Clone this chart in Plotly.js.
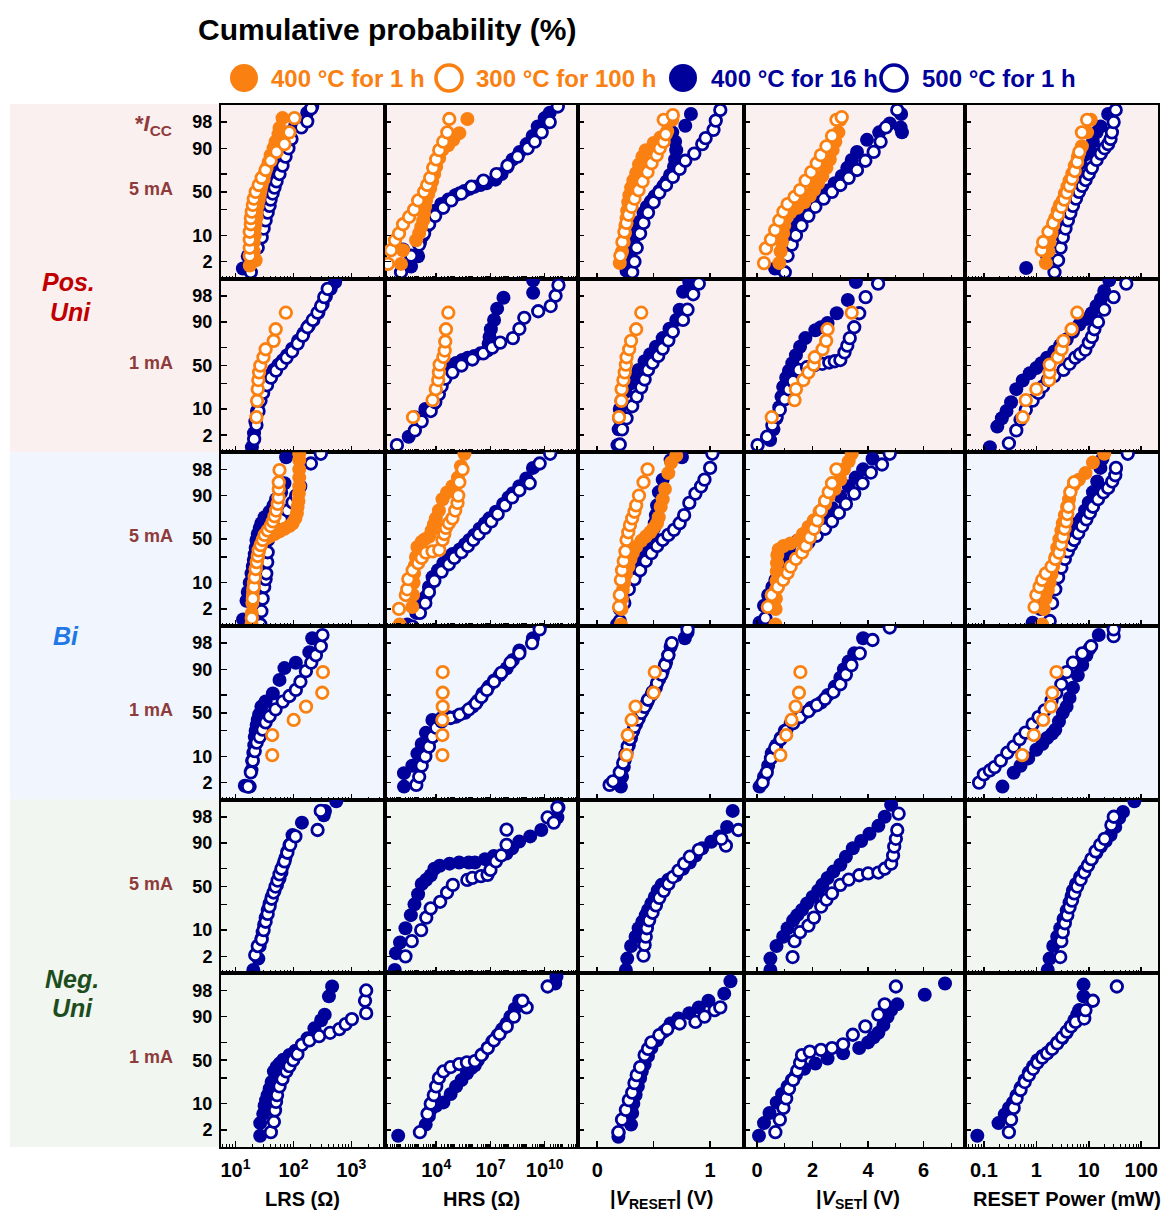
<!DOCTYPE html>
<html><head><meta charset="utf-8">
<script src="https://cdn.plot.ly/plotly-3.0.1.min.js"></script>
<style>body{margin:0;background:#fff}#chart{width:1166px;height:1214px}</style>
</head><body><div id="chart"></div>
<script>
// Series: A = 400 °C for 1 h (orange filled), B = 300 °C for 100 h (orange open),
//         C = 400 °C for 16 h (navy filled), D = 500 °C for 1 h (navy open)
// Each point: [value, cumulative probability %]
// ---------- Pos. Uni, 5 mA ----------
const LRS_P5_A=[[17.6,1.5],[22.3,2.2],[20.7,4],[20.7,7],[21.5,10],[21.5,14],[22.3,18],[23.2,23],[23.2,28],[24.2,34],[25.1,40],[26.2,46],[27.2,52],[28.3,58],[30.6,64],[31.8,70],[34.5,76],[37.3,81],[40.4,86],[45.4,90],[49.1,93],[55.3,95.5],[57.5,97],[64.8,98.5]];
const LRS_P5_B=[[17.6,3],[17.6,5],[17.6,8],[17.6,12],[18.4,17],[18.4,22],[19.1,28],[19.9,35],[20.7,42],[22.3,50],[25.1,58],[28.3,66],[33.1,74],[40.4,82],[51.1,88],[70,92],[85,96],[104,98.5]];
const LRS_P5_C=[[13.4,1.2],[16.3,2.9],[21.5,5],[24.2,8],[27.2,11],[29.4,16],[31.8,22],[34.5,28],[35.9,34],[37.3,40],[40.4,47],[43.7,54],[47.2,61],[53.2,69],[57.5,77],[64.8,84],[73,90],[79,93],[85,96],[108,97.6],[173,99],[211,99.4]];
const LRS_P5_D=[[18.4,0.9],[20.7,2.5],[24.2,5],[28.3,9],[30.6,14],[33.1,20],[35.9,27],[38.8,34],[40.4,41],[43.7,48],[47.2,55],[51.1,62],[57.5,70],[64.8,78],[73,85],[82,90],[92.5,94],[137,97.1],[173,98.1],[203,99.3]];
const HRS_P5_A=[[114,1.7],[147,4.3],[776,7.7],[1140,11],[1470,15],[1900,20],[2150,26],[2450,33],[2780,40],[3600,47],[4650,54],[6000,62],[7740,70],[1e4,77],[1.47e4,84],[2.15e4,89],[4.5e4,91.5],[8.8e4,93.7],[1.9e5,95.8],[5.3e5,98.4]];
const HRS_P5_B=[[21.5,1.7],[31.6,4.3],[52.7,7.7],[87.9,11],[147,17],[316,23],[600,30],[1000,40],[2150,50],[3160,58],[4650,66],[6810,76],[1e4,83],[1.47e4,89],[2.45e4,93],[4.1e4,96],[5.3e4,98.4]];
const HRS_P5_C=[[147,4.5],[408,1.4],[1000,2.9],[1290,7],[1900,10],[2780,15],[4650,22],[8790,29],[1.9e4,36],[4.65e4,41],[1.14e5,46],[2e5,48.5],[3.6e5,51],[7e5,53.5],[1.29e6,56],[2.8e6,58],[6e6,60],[1.9e7,64],[4.1e7,70],[8.8e7,77],[1.67e8,83],[4.1e8,88],[1e9,92],[2.15e9,95],[4.1e9,97.3],[1e10,98.5],[1.9e10,99]];
const HRS_P5_D=[[114,0.9],[408,3],[1140,6],[2150,11],[4080,17],[8790,24],[2.45e4,32],[6.8e4,40],[2.45e5,48],[8.8e5,56],[4.1e6,63],[2.15e7,70],[8.8e7,78],[3.16e8,85],[1.14e9,90],[2.8e9,93],[6.8e9,96],[1.9e10,98],[5.3e10,99.4]];
const VRESET_P5_A=[[0.20,1.8],[0.22,4],[0.235,7],[0.245,11],[0.25,16],[0.26,22],[0.265,29],[0.275,38],[0.285,46],[0.30,55],[0.32,63],[0.345,71],[0.37,79],[0.40,85],[0.43,89],[0.50,92.5],[0.56,94.5],[0.62,96.3],[0.665,98.3]];
const VRESET_P5_B=[[0.205,3],[0.223,7],[0.241,12],[0.259,18],[0.277,25],[0.304,33],[0.33,42],[0.366,52],[0.402,62],[0.446,72],[0.482,80],[0.527,86],[0.554,90],[0.589,93],[0.607,95.5],[0.589,98.3],[0.67,98.8]];
const VRESET_P5_C=[[0.26,1],[0.28,2.5],[0.295,4.3],[0.32,8],[0.345,13],[0.375,19],[0.41,27],[0.44,33],[0.475,39],[0.51,45],[0.55,51],[0.585,57],[0.614,62],[0.645,69],[0.68,77],[0.69,83],[0.70,89],[0.69,93],[0.665,96],[0.78,97.4],[0.83,98.9]];
const VRESET_P5_D=[[0.31,0.9],[0.33,2],[0.35,5],[0.38,11],[0.41,18],[0.45,27],[0.5,38],[0.55,49],[0.61,58],[0.67,67],[0.73,75],[0.78,82],[0.86,87],[0.93,92],[0.96,94.3],[1.03,96.6],[1.05,98.2],[1.09,99.2]];
const VSET_P5_A=[[0.8,1.8],[0.85,4],[0.9,7],[0.94,11],[0.98,16],[1.05,22],[1.2,27],[1.45,32],[1.7,38],[1.9,45],[2.05,52],[2.2,60],[2.35,68],[2.5,76],[2.62,83],[2.72,89],[2.82,93],[2.93,96],[3.0,98.3]];
const VSET_P5_B=[[0.25,1.8],[0.32,4.8],[0.5,8],[0.65,13],[0.8,20],[0.95,28],[1.1,36],[1.35,44],[1.55,52],[1.75,63],[1.95,72],[2.15,80],[2.3,86],[2.5,91],[2.7,95],[2.86,98.3],[3.05,98.6]];
const VSET_P5_C=[[0.65,1.2],[0.94,4.3],[1.1,8],[1.25,11],[1.35,15],[1.55,22],[1.75,30],[2.04,40],[2.35,46],[2.58,52],[2.8,60],[3.05,68],[3.25,76],[3.41,82.6],[3.6,88],[3.96,93.7],[4.4,96],[4.78,97.8],[5.19,98.9],[5.22,96],[5.17,97.1]];
const VSET_P5_D=[[1.0,0.9],[1.1,3],[1.25,6],[1.4,10],[1.6,16],[1.85,24],[2.1,33],[2.4,42],[2.7,50],[3.0,58],[3.3,66],[3.6,74],[3.9,82],[4.2,88],[4.45,93],[4.64,97.1],[5.05,99.2]];
const PWR_P5_A=[[1.52,1.8],[1.7,4],[1.8,7],[1.95,11],[2.1,16],[2.3,22],[2.55,29],[2.8,35],[3.2,40],[3.5,48],[3.9,56],[4.3,63],[4.85,70.6],[5.4,78],[6.2,85],[7.4,91],[9.3,96],[10.9,98.3]];
const PWR_P5_B=[[1.27,4.3],[1.35,7],[1.7,12],[2.1,18],[2.6,25],[3.0,33],[3.4,41],[3.8,49],[4.3,57],[4.8,65],[5.4,73],[6.0,81],[6.6,88],[7.4,96],[9.3,98.3]];
const PWR_P5_C=[[0.64,1.25],[1.6,3],[1.8,6],[2.0,10],[2.3,16],[2.6,24],[2.9,32],[3.3,40],[3.8,48],[4.3,56],[5.0,64],[5.8,72],[6.8,80],[8.3,86],[10.2,89.5],[12,93],[14.1,96],[16.8,97.3],[23.4,98.9]];
const PWR_P5_D=[[2.22,0.9],[2.6,2.2],[2.9,5],[3.2,9],[3.6,14],[4.0,20],[4.45,26.5],[5.0,34],[5.7,42],[6.5,50],[7.5,57],[8.7,63.6],[10,70],[11.5,76],[14.1,82.6],[17,87],[20,90],[23.4,92],[26,94],[27.6,96],[29.8,98],[32.6,99.2]];
// ---------- Pos. Uni, 1 mA ----------
const LRS_P1_B=[[23,6.4],[23.6,14.9],[24.2,24.3],[24.8,33.4],[25.5,42],[26.8,49.8],[30.4,59.6],[33.1,68.4],[45.6,76.6],[49.4,85.7],[74,94]];
const LRS_P1_C=[[19.2,0.8],[20.9,2.3],[22,5],[23.5,9],[24.8,13],[27,18],[30,24],[33,29],[36,33],[40,39],[46,45],[55,51],[65,56],[78,62],[95,69],[121,77],[150,83],[185,88],[222,91],[270,94],[320,96.5],[363,97.9],[440,98.8],[525,99.3]];
const LRS_P1_D=[[21,1.5],[23,4],[25,9],[27,15],[30,21],[35,28],[41,36],[50,44],[62,52],[76,59],[95,66],[118,74],[145,81],[175,87],[215,91],[260,94],[300,96],[340,97.8],[390,98.8]];
const HRS_P1_B=[[525,6.4],[6300,15.4],[9500,24.3],[12900,33.4],[14100,42],[15500,51],[25000,60],[29500,67],[31600,76],[34700,85.7],[46800,94]];
const HRS_P1_C=[[302,1.8],[661,6.4],[2510,10],[7410,13],[1.12e4,20],[1.58e4,30],[2.45e4,44.8],[3.98e4,47.5],[6.31e4,50],[1.26e5,53],[2.75e5,56.4],[5.62e5,59],[1.26e6,61],[2.82e6,64],[6.76e6,67],[7.94e6,74],[8.91e6,80],[1.05e7,85.7],[1.58e7,91],[2.34e7,95.3],[5.25e7,97.7],[2.29e9,98.4],[2.29e9,99.4]];
const HRS_P1_D=[[67.6,0.95],[661,2.8],[1580,5],[5010,9],[8910,14],[1.41e4,20],[2e4,27],[3.16e4,35],[7.94e4,42],[2.51e5,50],[1e6,57],[3.98e6,64],[1.26e7,70],[3.47e7,75],[1.74e8,79],[3.98e8,86],[7.41e8,92],[4.37e9,94.5],[2.14e10,96],[3.98e10,98],[5.75e10,99.1]];
const VRESET_P1_B=[[0.193,6.4],[0.214,14.9],[0.216,24.3],[0.232,33.4],[0.244,42],[0.254,51],[0.26,59.6],[0.283,68.4],[0.30,76.6],[0.345,85.7],[0.39,94]];
const VRESET_P1_C=[[0.18,0.95],[0.19,3],[0.195,6],[0.2,10],[0.215,15],[0.25,22],[0.3,30],[0.33,37],[0.366,44.8],[0.42,55],[0.47,63],[0.52,71],[0.58,79],[0.64,86],[0.70,91],[0.73,95],[0.76,98.5],[0.815,99.3]];
const VRESET_P1_D=[[0.2,1],[0.22,3],[0.26,6],[0.31,11.5],[0.35,18],[0.39,26],[0.42,34],[0.45,44.8],[0.49,53],[0.54,61],[0.58,69],[0.63,77],[0.67,84],[0.76,91],[0.8,95],[0.85,98.2],[0.9,99.2]];
const VSET_P1_B=[[0.53,6.4],[1.35,15.4],[1.4,24.3],[1.67,33.4],[1.85,42],[2.04,51],[2.08,59.6],[2.36,68.4],[2.49,76.6],[2.54,85.7],[3.41,94]];
const VSET_P1_C=[[0.47,1.4],[0.59,3],[0.7,6],[0.8,11],[0.88,18],[0.94,26.5],[1.05,36],[1.15,44],[1.27,52.6],[1.4,62],[1.55,71],[1.74,79],[2.1,85],[2.3,87],[2.54,89.5],[2.87,93.8],[3.27,97.3],[3.56,99.3]];
const VSET_P1_D=[[0.02,0.95],[0.36,1.8],[0.55,4],[0.7,6.5],[0.82,9.6],[1.0,16],[1.15,24],[1.3,32],[1.51,44.8],[1.8,48],[2.08,50.6],[2.35,52],[2.6,53.5],[2.8,55],[3.0,56.4],[3.15,65],[3.25,72],[3.34,79],[3.5,87],[3.68,93.8],[3.91,97.8],[4.36,99.2]];
const PWR_P1_B=[[0.55,6.4],[0.63,15.4],[1.0,24.3],[1.75,33.4],[1.79,42],[1.8,51],[2.57,59.6],[3.03,68.4],[3.28,76.6],[4.7,85.7],[6.03,94]];
const PWR_P1_C=[[0.13,0.8],[0.18,3.6],[0.22,6],[0.27,9],[0.33,14],[0.415,24.3],[0.55,33],[0.75,41],[1.0,47],[1.25,52.6],[1.6,59],[2.2,66],[2.86,72.6],[3.8,78],[5.0,84],[6.6,88.6],[9,91.5],[11.4,93.8],[14,96],[17,97.5],[19.7,98.6],[24.6,99.4]];
const PWR_P1_D=[[0.3,1.1],[0.415,2.8],[0.5,5.5],[0.63,9.6],[0.85,15],[1.1,21],[1.35,27],[1.65,33.4],[2.2,38],[3.3,44.8],[4.3,52],[5.5,59],[6.8,63],[8.6,67.8],[10,75],[11.5,80],[12.8,85.7],[15,90],[19.7,95],[29.8,97.8],[51.9,99.2]];
// ---------- Bi, 5 mA ----------
const LRS_B5_A=[[18.9,0.6],[19.1,1.5],[19.5,3],[19.9,5],[20.1,6.7],[20.7,10],[21.5,14],[22.3,19],[23.5,25],[24.4,30],[25.5,36],[27.2,42],[29.8,49],[34,51],[38.8,53],[47.2,56],[57.5,59],[70,62],[85,65],[97,68],[108,73],[115,78],[118,83],[122,87],[124,91],[126,94],[126,96.5],[126,98],[126,99],[126,99.4]];
const LRS_B5_B=[[19.1,1],[19.9,4],[20.7,8],[21.5,13],[22.3,19],[23.2,25],[24.2,31],[25.1,37],[27.2,43],[29.4,49],[31.8,55],[35.9,60],[40.4,65],[44.1,70],[47.2,75],[50.3,80],[53.5,85],[55.3,89],[55.8,93],[55.8,95.3],[57.5,97.9]];
const LRS_B5_C=[[13.5,0.9],[15.5,3.5],[16.3,6],[17.6,10],[18.9,15.6],[19.9,21],[20.7,27],[21.5,33],[22.3,40],[23,49],[24.2,56],[26.2,63],[28,68],[31.8,74],[38.8,79],[45.4,84],[50.3,88],[61.3,91.5],[70,95],[74.8,99.2]];
const LRS_B5_D=[[26.9,0.6],[28,1.7],[29.4,4],[31.3,8],[33.1,12],[34,15.6],[35.3,25],[35.9,35],[36.2,49],[40.4,57],[48.9,64],[62.1,72],[79.2,80],[96.5,86],[111.7,90],[130.8,94],[200,98.7],[297,99.4]];
const HRS_B5_A=[[95.5,0.6],[479,2.3],[525,5],[562,10],[603,15.6],[661,22],[759,30],[912,41],[1580,47],[2400,50],[4070,53],[5620,60],[7590,67],[9550,73],[1.41e4,80],[2.24e4,88],[3.98e4,91.5],[7.94e4,94],[1.58e5,96.5],[2.34e5,98.4],[3.63e5,99.4]];
const HRS_B5_B=[[87.1,2],[209,5],[251,7],[288,12],[501,18],[1000,24],[1580,29],[2690,34.5],[6310,36],[1.48e4,37.6],[2.24e4,49],[2.82e4,56],[3.47e4,63],[5.01e4,68],[7.94e4,73],[1.12e5,80],[1.51e5,85.7],[1.66e5,90],[1.91e5,95.3],[2.88e5,98]];
const HRS_B5_C=[[251,0.6],[794,1.5],[1580,2.8],[2690,4.5],[3980,8],[6310,13.2],[1.26e4,18],[2.51e4,24],[5.01e4,30],[7.94e4,33],[2e5,38],[3.98e5,44],[6.76e5,49],[1.26e6,55],[2.51e6,62],[5.01e6,68],[8.71e6,73],[2e7,79],[5.01e7,85],[1e8,89],[1.74e8,91.2],[3.98e8,94],[9.55e8,96.3],[2.24e9,98.2]];
const HRS_B5_D=[[479,0.5],[1260,1.5],[2510,3],[3980,6],[7940,11],[2e4,17],[5.01e4,23],[1e5,29],[2.51e5,35],[5.62e5,42],[1.12e6,49],[2.24e6,56],[5.01e6,63],[1.12e7,70],[2.51e7,77],[6.31e7,84],[1.58e8,89],[3.98e8,92.5],[1.48e9,95],[5.25e9,98.7],[2e10,99.4]];
const VRESET_B5_A=[[0.21,0.6],[0.215,2],[0.22,4],[0.227,6.7],[0.24,10],[0.255,15],[0.277,21],[0.295,28],[0.315,34],[0.345,41],[0.39,48],[0.43,53],[0.47,58],[0.5,63],[0.53,68],[0.545,74],[0.5625,83],[0.58,88],[0.6,93],[0.63,97.4],[0.655,98.8],[0.70,99.3]];
const VRESET_B5_B=[[0.193,2.3],[0.2,5],[0.21,11.5],[0.22,18],[0.235,26],[0.25,36],[0.26,49],[0.275,58],[0.29,66],[0.31,73],[0.33,79],[0.345,84],[0.37,90],[0.41,95.3],[0.446,98]];
const VRESET_B5_C=[[0.176,0.6],[0.2,2],[0.225,4],[0.244,6.7],[0.28,10],[0.345,15.6],[0.38,22],[0.41,29],[0.446,37.6],[0.47,46],[0.49,55],[0.5,62],[0.51,68],[0.52,76],[0.53,84],[0.546,91.7],[0.58,96],[0.65,99],[0.75,99.2]];
const VRESET_B5_D=[[0.2,0.8],[0.24,3],[0.28,7],[0.33,12],[0.38,18],[0.43,26],[0.48,34],[0.53,42],[0.58,49],[0.63,55],[0.68,60.8],[0.73,68],[0.77,76],[0.816,85.7],[0.87,91],[0.92,94],[0.95,96],[1.0,98.2],[1.02,99.4]];
const VSET_B5_A=[[0.66,0.6],[0.67,2],[0.68,4],[0.69,7],[0.7,11],[0.71,17],[0.72,24],[0.73,32],[0.78,38],[0.95,42],[1.2,45],[1.49,49],[1.65,56],[1.85,64],[2.04,71],[2.25,79],[2.45,85],[2.58,89.5],[2.8,93],[3.0,96],[3.13,98],[3.3,98.9],[3.41,99.4]];
const VSET_B5_B=[[0.39,2.3],[0.53,5],[0.75,8],[0.94,11.5],[1.1,16],[1.21,21],[1.4,28],[1.62,34.5],[1.75,42],[1.9,52],[2.05,62],[2.17,71],[2.3,80],[2.45,87],[2.58,91.7],[2.7,95],[2.86,98]];
const VSET_B5_C=[[0.09,0.7],[0.25,2.5],[0.4,5],[0.55,8],[0.66,11.5],[0.8,17],[0.95,24],[1.1,32],[1.21,41],[1.45,48],[1.75,55],[2.05,62],[2.31,68],[2.5,75],[2.7,82],[3.0,89.5],[3.3,94],[3.55,96.5],[3.82,98],[4.16,99.1]];
const VSET_B5_D=[[0.3,1],[0.5,3.5],[0.7,8],[0.9,14],[1.15,22],[1.35,30],[1.55,38],[1.85,46],[2.15,54],[2.45,62],[2.7,70],[2.95,78],[3.2,85],[3.5,91],[3.8,95],[4.1,97.5],[4.5,98.6],[4.78,99.4]];
const PWR_B5_A=[[1.29,0.6],[1.4,2],[1.5,4],[1.66,6.7],[1.8,10],[1.95,15],[2.1,21],[2.3,30],[2.5,40],[2.75,50],[3.0,60],[3.2,68],[3.5,76],[3.85,83],[4.2,88],[4.46,91.7],[5.2,94.5],[6.5,96],[8.65,97.4],[12,98.8],[19.7,99.4]];
const PWR_B5_B=[[0.925,2.3],[1.0,5],[1.15,8],[1.29,11.5],[1.52,15.6],[1.95,21],[2.3,28],[2.7,34.5],[2.95,44],[3.2,53],[3.45,62],[3.7,70],[3.9,77],[4.1,83],[4.46,91.7],[5.27,95.3]];
const PWR_B5_C=[[0.85,0.7],[1.2,2],[1.45,4],[1.66,6.7],[1.95,10],[2.3,15],[2.6,21],[2.95,29],[3.3,37.6],[3.8,46],[4.4,54],[5.2,62],[6.1,68],[7.3,73],[8.5,80],[10,86],[12,91.7],[14.5,95.5],[16.7,98.2],[18.2,99.1]];
const PWR_B5_D=[[1.8,0.8],[2.0,3],[2.3,7],[2.6,13],[3.0,20],[3.5,28],[4.0,36],[4.6,43],[5.27,49],[6.3,57],[7.5,65],[9,72],[10.5,78],[12,83],[15,88],[19,91.5],[23.4,93.4],[28,95.5],[32,97],[33,98.2],[55.4,99.4]];
// ---------- Bi, 1 mA ----------
const LRS_B1_B=[[43,10.7],[43,25.7],[101,41.7],[165,57.3],[314,72.3],[323,88.5]];
const LRS_B1_C=[[14.5,1.6],[17.6,1.5],[18.9,4.6],[19.4,8],[20.3,12],[21.1,17],[21.5,24],[22.3,30],[23.2,36],[24.2,42],[25.6,48],[28,57.3],[33.1,63],[44.1,71.6],[57.5,83.4],[70,90.6],[110,93],[188,96.3],[211,98.6]];
const LRS_B1_D=[[16.5,1.5],[18.4,4],[19.9,8],[21.5,13],[23.2,19],[26.2,24],[29.4,31],[33.1,39],[38.8,46],[49.1,54],[65.5,63],[85.3,69],[110,75],[132,82],[164,89],[203,93],[244,95.5],[297,97.5],[317,98.9]];
const HRS_B1_B=[[2.2e4,10.7],[2.2e4,25.7],[2.2e4,41.7],[2.3e4,57.3],[2.3e4,72.3],[2.3e4,88.5]];
const HRS_B1_C=[[166,1.5],[166,3.8],[479,6],[912,11.5],[1580,18],[2690,27.8],[6170,41.7],[2e4,44],[5.01e4,44.8],[1.23e5,45.5],[3.98e5,50],[1.05e6,57.3],[2e6,64],[3.72e6,71.6],[7.94e6,78],[1.58e7,83],[3.16e7,86.5],[7.94e7,90.5],[1.74e8,94],[3.98e8,96.7],[2.24e9,98.6]];
const HRS_B1_D=[[794,1.7],[1150,3],[1580,6],[2510,10],[3980,16],[6310,24],[1e4,33],[2e4,40],[6.31e4,44],[2e5,48],[6.31e5,54],[1.58e6,61],[3.16e6,68],[6.31e6,75],[1.58e7,82],[3.98e7,88],[1.26e8,93],[3.98e8,96],[2e9,98],[5.25e9,99.3]];
const VRESET_B1_B=[[0.26,10.7],[0.27,25.7],[0.305,41.7],[0.34,57.3],[0.5,72.3],[0.51,88.5]];
const VRESET_B1_C=[[0.21,1.5],[0.22,3],[0.235,5.5],[0.244,8.3],[0.26,12],[0.28,17],[0.3,23],[0.32,30],[0.345,37],[0.37,44],[0.4,52],[0.43,59],[0.446,63],[0.48,70],[0.52,77],[0.55,84],[0.58,89],[0.61,93],[0.63,95.5],[0.65,97.4],[0.776,98.6],[0.8,99.1]];
const VRESET_B1_D=[[0.11,1.7],[0.14,2.2],[0.2,4],[0.23,7],[0.25,11],[0.27,16],[0.29,22],[0.31,28],[0.33,34],[0.36,42],[0.39,50],[0.42,57],[0.45,65],[0.49,73],[0.53,81],[0.57,87],[0.6,92],[0.63,95.5],[0.66,98],[0.8,99.3]];
const VSET_B1_B=[[0.84,10.7],[1.05,25.7],[1.24,41.7],[1.39,57.3],[1.51,72.3],[1.56,88.5]];
const VSET_B1_C=[[0.09,1.5],[0.25,3],[0.4,6],[0.53,11.7],[0.7,17],[0.85,23],[1.0,30],[1.21,37.8],[1.45,44],[1.7,50],[1.95,56],[2.31,62],[2.55,70],[2.8,78],[3.0,85],[3.13,90],[3.3,93.5],[3.5,96],[3.82,98.6]];
const VSET_B1_D=[[0.2,2],[0.35,4],[0.5,9],[0.65,15],[0.85,22],[1.05,30],[1.3,38],[1.55,45],[1.85,52],[2.15,59],[2.45,66],[2.75,73],[3.0,80],[3.2,87],[3.4,92],[3.7,96],[4.16,98.4],[4.78,99.4]];
const PWR_B1_B=[[0.537,10.7],[0.895,25.7],[1.35,41.7],[1.89,57.3],[2.02,72.3],[2.42,88.5]];
const PWR_B1_C=[[0.226,1.5],[0.37,3.9],[0.5,6],[0.7,9],[1.0,13.9],[1.3,18],[1.6,23],[2.0,27],[2.3,31],[2.7,40],[3.2,50],[3.78,57.3],[4.3,67],[5.0,77],[6.17,86.5],[7.5,92],[9,95.5],[10.2,97],[15.5,98.9]];
const PWR_B1_D=[[0.081,2],[0.1,3.5],[0.13,4.5],[0.16,5.5],[0.21,8],[0.28,12],[0.37,16],[0.48,22],[0.62,28],[0.85,37],[1.1,45],[1.45,53],[1.95,64],[2.4,72],[3.0,80],[3.78,88.5],[5.0,93],[7.5,96],[11.1,97.5],[29.8,98.8],[29.8,99.3]];
// ---------- Neg. Uni, 5 mA ----------
const LRS_N5_C=[[20.3,0.7],[24.8,1.7],[26.2,4],[28.1,6.3],[29.4,9],[31.2,13],[33.1,18],[35.9,24.6],[38.8,31],[42,38],[47.2,45],[52.1,51.9],[57.5,59],[62.1,66],[66.8,74],[72.5,80],[78.5,85],[85.3,89],[96.4,93.5],[140,97],[334,98.2],[350,98.7],[548,99.4]];
const LRS_N5_D=[[21.9,2.2],[24.2,4],[28.3,6],[30.6,10],[33.1,15],[35.9,21],[38.8,28],[42,36],[45.4,43],[49.1,50],[53.2,57],[57.5,64],[62.1,70],[70,77],[78.5,84],[88,89],[108,93],[261,95.2],[296,98.7]];
const HRS_N5_C=[[51.3,0.7],[60.3,2.5],[100,5],[200,11],[398,20],[631,30],[1000,41],[1580,53],[2820,58],[5010,63],[7940,70],[1.58e4,73],[5.5e4,75],[1.86e5,76],[6.31e5,76],[1.38e6,76],[5.01e6,79],[1.55e7,81.6],[7.76e7,83.6],[1.58e8,87],[3.89e8,90.7],[1.58e9,93],[6.46e9,95.2],[5.01e10,97.9],[5.75e10,99]];
const HRS_N5_D=[[200,2],[447,5.4],[1480,10],[2820,18],[5010,26],[1.66e4,32.7],[3.98e4,43],[8.32e4,51.9],[5.25e5,57.7],[1e6,60],[3e6,62],[6.92e6,63.5],[1e7,68.8],[2e7,77],[3.98e7,82],[7.76e7,89],[7.76e7,95.3],[1.45e10,97.9],[3.16e10,97],[5.01e10,99]];
const VRESET_N5_C=[[0.254,0.7],[0.266,1.7],[0.3,4],[0.34,7],[0.367,11],[0.4,15],[0.43,20],[0.45,24.6],[0.48,31],[0.51,38],[0.536,45.5],[0.57,52],[0.63,58],[0.7,63],[0.76,70],[0.82,76],[0.872,82],[0.93,87],[1.01,90.6],[1.08,93],[1.15,96],[1.2,98.7]];
const VRESET_N5_D=[[0.41,2.1],[0.42,4.3],[0.43,7],[0.44,11],[0.46,16],[0.49,22],[0.52,29],[0.55,37],[0.59,45],[0.63,53],[0.67,61],[0.72,68],[0.77,75],[0.82,81],[0.9,86],[1.14,88.6],[1.1,92],[1.25,95.2]];
const VSET_N5_C=[[0.48,0.7],[0.48,1.7],[0.7,4],[0.94,7],[1.1,11],[1.3,16],[1.45,20],[1.62,24.6],[1.8,31],[2.0,38],[2.2,45],[2.35,52],[2.54,60],[2.75,67],[3.0,74],[3.2,81],[3.45,87],[3.75,91],[4.05,94],[4.37,96.3],[4.6,98],[4.83,99.2]];
const VSET_N5_D=[[1.28,1.9],[1.35,5.4],[1.55,9],[1.85,12.5],[2.05,18],[2.31,27.8],[2.5,35],[2.7,42],[3.0,52],[3.3,58],[3.68,63],[4.0,65],[4.37,66],[4.6,70],[4.83,75],[4.9,82],[4.94,88],[5.0,92],[5.05,95.2],[5.1,98.4]];
const PWR_N5_C=[[1.65,0.7],[1.79,1.7],[2.1,4],[2.5,7],[2.86,11],[3.3,17],[3.8,24],[4.3,32],[4.7,39],[5.0,45.5],[5.7,53],[6.8,61],[8.2,68],[9.8,74],[11.4,79],[14,84],[17,88],[21,91],[26,93.5],[32,96],[38,97.8],[45,98.6],[74,99.4]];
const PWR_N5_D=[[2.86,1.9],[3.0,5.4],[3.2,9],[3.5,14],[3.9,20],[4.3,27],[4.8,34],[5.3,42],[6.0,50],[7.0,58],[8.2,66],[9.6,73],[11.2,79],[13.5,85],[16.5,89],[20,92],[27,96.5],[30,98]];
// ---------- Neg. Uni, 1 mA ----------
const LRS_N1_C=[[26.7,1.3],[26.7,3.2],[30.1,5.7],[31.8,9],[33.7,12],[35.9,15.2],[38.8,20],[42,26],[46,37],[51.1,42],[57.5,46],[66.8,50.6],[85.3,56],[108,61],[140,67.5],[174,74],[230,82.6],[301,88],[346,91],[410,97],[465,98.5]];
const LRS_N1_D=[[40.8,1.7],[46,3.5],[48.1,7],[50.1,11],[52.2,15.2],[57.5,22],[64.8,29],[75.5,37],[85.3,43],[99,50],[117,57],[140,67.5],[188,72],[277,76],[429,79],[620,82],[794,85.6],[1020,88.7],[1800,91.7],[1720,96],[1800,98]];
const HRS_N1_C=[[79.4,1.3],[2630,2.9],[3980,5],[5010,7.2],[1e4,9],[2.51e4,10.7],[6.31e4,16],[1.26e5,22],[2.51e5,28],[5.01e5,35],[8.91e5,41],[1.38e6,44],[2e6,50],[3.55e6,57],[6.92e6,64],[1.26e7,71],[2.51e7,77],[4.47e7,82],[7.76e7,86],[1.26e8,90],[2.24e8,93.5],[3.89e8,96],[3.8e10,98.8],[4.47e10,99.3]];
const HRS_N1_D=[[1260,1.7],[3310,5.7],[5010,10],[7410,15.2],[1e4,22],[1.41e4,30],[2.51e4,37],[6.31e4,42],[1.86e5,45.5],[5e5,47.5],[1.38e6,49],[3.16e6,56],[7.08e6,64],[1.55e7,72],[3.16e7,78],[7.94e7,84],[2e8,90],[1e9,94],[5.89e8,96],[1.45e10,98.5]];
const VRESET_N1_C=[[0.1875,1.2],[0.19,1.6],[0.30,2.9],[0.31,6],[0.32,10],[0.34,15.2],[0.36,22],[0.38,30],[0.395,37],[0.42,45],[0.45,55],[0.48,64],[0.53,72],[0.59,80],[0.65,86],[0.72,89],[0.816,91.7],[0.9,94],[0.985,96],[1.125,97.5],[1.18,99]];
const VRESET_N1_D=[[0.1875,1.7],[0.22,4],[0.254,7.2],[0.28,12],[0.31,17],[0.33,25],[0.35,33],[0.38,42],[0.42,56],[0.45,63],[0.48,70],[0.55,77],[0.62,82],[0.73,86],[0.87,87],[0.95,90],[1.04,93],[1.09,94]];
const VSET_N1_C=[[0.07,1.3],[0.25,3.2],[0.45,6],[0.71,10.7],[0.9,16],[1.1,22],[1.25,28],[1.4,33],[1.7,40],[2.1,46],[2.54,52],[3.1,58],[3.68,64],[4.0,70],[4.2,75],[4.37,79],[4.55,85],[4.7,90],[4.83,93],[5.05,95],[6.04,97.3],[6.77,98.8]];
const VSET_N1_D=[[0.66,1.7],[0.82,4],[0.95,8],[1.05,13],[1.15,20],[1.3,28],[1.45,38],[1.55,47],[1.62,56],[1.9,60],[2.3,62],[2.7,64],[3.1,68],[3.45,77.3],[3.9,84],[4.37,91],[4.6,95],[5.0,98.5]];
const PWR_N1_C=[[0.075,1.3],[0.19,3.2],[0.25,5.5],[0.3,8],[0.36,10.7],[0.42,15],[0.5,21],[0.6,28],[0.72,36],[0.87,43],[1.05,50],[1.3,55],[1.65,59],[2.0,64],[2.5,70],[3.1,74],[3.78,79],[4.5,84],[5.3,88],[6.0,91],[6.56,93],[7.95,97],[7.95,98.7]];
const PWR_N1_D=[[0.3,1.7],[0.33,4],[0.37,8],[0.42,13],[0.5,19],[0.6,26],[0.72,33],[0.87,40],[1.05,47],[1.3,53],[1.6,58],[2.0,63],[2.5,69],[3.1,75],[3.8,80],[4.6,84],[5.6,87],[8.2,89],[8.65,93],[12,96],[34.3,98.5]];

// ---------- labels / ticks ----------
const ROW_CURRENTS=['5 mA','1 mA','5 mA','1 mA','5 mA','1 mA'];
const COL_TITLES=['LRS (Ω)','HRS (Ω)','|<i>V</i><sub>RESET</sub>| (V)','|<i>V</i><sub>SET</sub>| (V)','RESET Power (mW)'];
const LEGEND_NAMES=['400 °C for 1 h','300 °C for 100 h','400 °C for 16 h','500 °C for 1 h'];
const PROB_TICKS=[2,10,50,90,98];
const PROB_LABELS=['2','10','50','90','98'];
const PROB_MINOR=[30,70];

// table of panels [row][col]
const PANELS=[
 [{A:LRS_P5_A,B:LRS_P5_B,C:LRS_P5_C,D:LRS_P5_D},{A:HRS_P5_A,B:HRS_P5_B,C:HRS_P5_C,D:HRS_P5_D},{A:VRESET_P5_A,B:VRESET_P5_B,C:VRESET_P5_C,D:VRESET_P5_D},{A:VSET_P5_A,B:VSET_P5_B,C:VSET_P5_C,D:VSET_P5_D},{A:PWR_P5_A,B:PWR_P5_B,C:PWR_P5_C,D:PWR_P5_D}],
 [{B:LRS_P1_B,C:LRS_P1_C,D:LRS_P1_D},{B:HRS_P1_B,C:HRS_P1_C,D:HRS_P1_D},{B:VRESET_P1_B,C:VRESET_P1_C,D:VRESET_P1_D},{B:VSET_P1_B,C:VSET_P1_C,D:VSET_P1_D},{B:PWR_P1_B,C:PWR_P1_C,D:PWR_P1_D}],
 [{A:LRS_B5_A,B:LRS_B5_B,C:LRS_B5_C,D:LRS_B5_D},{A:HRS_B5_A,B:HRS_B5_B,C:HRS_B5_C,D:HRS_B5_D},{A:VRESET_B5_A,B:VRESET_B5_B,C:VRESET_B5_C,D:VRESET_B5_D},{A:VSET_B5_A,B:VSET_B5_B,C:VSET_B5_C,D:VSET_B5_D},{A:PWR_B5_A,B:PWR_B5_B,C:PWR_B5_C,D:PWR_B5_D}],
 [{B:LRS_B1_B,C:LRS_B1_C,D:LRS_B1_D},{B:HRS_B1_B,C:HRS_B1_C,D:HRS_B1_D},{B:VRESET_B1_B,C:VRESET_B1_C,D:VRESET_B1_D},{B:VSET_B1_B,C:VSET_B1_C,D:VSET_B1_D},{B:PWR_B1_B,C:PWR_B1_C,D:PWR_B1_D}],
 [{C:LRS_N5_C,D:LRS_N5_D},{C:HRS_N5_C,D:HRS_N5_D},{C:VRESET_N5_C,D:VRESET_N5_D},{C:VSET_N5_C,D:VSET_N5_D},{C:PWR_N5_C,D:PWR_N5_D}],
 [{C:LRS_N1_C,D:LRS_N1_D},{C:HRS_N1_C,D:HRS_N1_D},{C:VRESET_N1_C,D:VRESET_N1_D},{C:VSET_N1_C,D:VSET_N1_D},{C:PWR_N1_C,D:PWR_N1_D}]
];

// ---------- styling / layout ----------
const ORANGE='#FA8011', NAVY='#00009A';
const FONT='Arial, "Liberation Sans", sans-serif';
const W=1166,H=1214, L=221,R=1158,T=105,B=1147;
const COL_EDGES=[221,385,578,744,965,1158];
const ROW_EDGES=[105,278.7,452.3,626,799.7,973.4,1147];
const px=(x)=>(x-L)/(R-L);
const py=(y)=>(B-y)/(B-T);

// normal-probability scale (probit) for the y axes
function probit(p){
 const a=[-3.969683028665376e+01,2.209460984245205e+02,-2.759285104469687e+02,1.383577518672690e+02,-3.066479806614716e+01,2.506628277459239e+00];
 const b=[-5.447609879822406e+01,1.615858368580409e+02,-1.556989798598866e+02,6.680131188771972e+01,-1.328068155288572e+01];
 const c=[-7.784894002430293e-03,-3.223964580411365e-01,-2.400758760255988e+00,-2.549732539343734e+00,4.374664141464968e+00,2.938163982698783e+00];
 const d=[7.784695709041462e-03,3.224671290700398e-01,2.445134137142996e+00,3.754408661907416e+00];
 const pl=0.02425; let q,r;
 if(p<pl){q=Math.sqrt(-2*Math.log(p));return (((((c[0]*q+c[1])*q+c[2])*q+c[3])*q+c[4])*q+c[5])/((((d[0]*q+d[1])*q+d[2])*q+d[3])*q+1);}
 if(p<=1-pl){q=p-0.5;r=q*q;return (((((a[0]*r+a[1])*r+a[2])*r+a[3])*r+a[4])*r+a[5])*q/(((((b[0]*r+b[1])*r+b[2])*r+b[3])*r+b[4])*r+1);}
 q=Math.sqrt(-2*Math.log(1-p));return -(((((c[0]*q+c[1])*q+c[2])*q+c[3])*q+c[4])*q+c[5])/((((d[0]*q+d[1])*q+d[2])*q+d[3])*q+1);
}

function logMinor(lo,hi,withDecades){const v=[];for(let e=lo;e<=hi;e++){if(withDecades)v.push(Math.pow(10,e));for(let m=2;m<=9;m++)v.push(m*Math.pow(10,e));}return v;}
const XAX=[
 {type:'log',range:[0.75,3.58],tickvals:[10,100,1000],ticktext:['10<sup>1</sup>','10<sup>2</sup>','10<sup>3</sup>'],minor:logMinor(0,3,false),minorLen:3},
 {type:'log',range:[1.17,11.84],tickvals:[1e4,1e7,1e10],ticktext:['10<sup>4</sup>','10<sup>7</sup>','10<sup>10</sup>'],minor:logMinor(1,11,true).filter(v=>v!==1e4&&v!==1e7&&v!==1e10),minorLen:3},
 {type:'linear',range:[-0.17,1.30],tickvals:[0,1],ticktext:['0','1'],minor:[0.5],minorLen:6},
 {type:'linear',range:[-0.47,7.49],tickvals:[0,2,4,6],ticktext:['0','2','4','6'],minor:[1,3,5,7],minorLen:4},
 {type:'log',range:[-1.36,2.32],tickvals:[0.1,1,10,100],ticktext:['0.1','1','10','100'],minor:logMinor(-2,2,false),minorLen:3}
];
const STY={
 A:{size:14,color:ORANGE,line:{width:0}},
 B:{size:11.5,color:'#ffffff',line:{color:ORANGE,width:2.8}},
 C:{size:14,color:NAVY,line:{width:0}},
 D:{size:11.5,color:'#ffffff',line:{color:NAVY,width:2.8}}
};
const ORDER=['C','D','A','B'];
const probTickVals=PROB_TICKS.map(p=>probit(p/100));
const probMinorVals=PROB_MINOR.map(p=>probit(p/100));
const YR=2.556;

const traces=[]; const layout={
 width:W,height:H,margin:{l:L,r:W-R,t:T,b:H-B,pad:0},
 paper_bgcolor:'#ffffff',plot_bgcolor:'rgba(0,0,0,0)',showlegend:false,
 font:{family:FONT,color:'#000'},shapes:[],annotations:[]
};
for(let r=0;r<6;r++){for(let c=0;c<5;c++){
 const k=r*5+c+1, sx=(k===1?'':k);
 const set=PANELS[r][c];
 ORDER.forEach(s=>{ if(!set[s]) return;
  traces.push({type:'scatter',mode:'markers',x:set[s].map(d=>d[0]),y:set[s].map(d=>probit(d[1]/100)),
   xaxis:'x'+sx,yaxis:'y'+sx,marker:STY[s],hoverinfo:'skip',cliponaxis:true});
 });
 const xa=XAX[c];
 layout['xaxis'+sx]={domain:[px(COL_EDGES[c]),px(COL_EDGES[c+1])],anchor:'y'+sx,type:xa.type,range:xa.range,
  showline:true,linecolor:'#000',linewidth:2,mirror:true,ticks:'inside',ticklen:6,tickwidth:1.5,tickcolor:'#000',
  showgrid:false,zeroline:false,tickmode:'array',tickvals:xa.tickvals,ticktext:xa.ticktext,tickangle:0,
  showticklabels:(r===5),tickfont:{size:20,family:FONT,weight:'bold',color:'#000'},ticklabelstandoff:4,
  minor:{tickmode:'array',tickvals:xa.minor,ticks:'inside',ticklen:xa.minorLen,tickwidth:1,tickcolor:'#000',showgrid:false}};
 layout['yaxis'+sx]={domain:[py(ROW_EDGES[r+1]),py(ROW_EDGES[r])],anchor:'x'+sx,range:[-YR,YR],
  showline:true,linecolor:'#000',linewidth:2,mirror:true,ticks:'inside',ticklen:6,tickwidth:1.5,tickcolor:'#000',
  showgrid:false,zeroline:false,tickmode:'array',tickvals:probTickVals,ticktext:PROB_LABELS,tickangle:0,
  showticklabels:(c===0),tickfont:{size:18,family:FONT,weight:'bold',color:'#000'},ticklabelstandoff:3,
  minor:{tickmode:'array',tickvals:probMinorVals,ticks:'inside',ticklen:6,tickwidth:1.5,tickcolor:'#000',showgrid:false}};
}}

// background bands
const BANDS=[['#FBF0F0',104,452.3],['#F0F5FE',452.3,799.7],['#F1F6F0',799.7,1147]];
BANDS.forEach(b=>layout.shapes.push({type:'rect',xref:'paper',yref:'paper',layer:'below',x0:px(10),x1:px(1159),y0:py(b[2]),y1:py(b[1]),fillcolor:b[0],line:{width:0}}));

const ann=(x,y,text,o)=>layout.annotations.push(Object.assign({xref:'paper',yref:'paper',x:px(x),y:py(y),text:text,showarrow:false,xanchor:'center',yanchor:'middle'},o||{}));
// title
ann(196,30,'Cumulative probability (%)',{xanchor:'left',font:{size:30,family:FONT,weight:'bold',color:'#000'}});

// legend (custom)
const LEG=[[244,269,ORANGE,true],[449,474,ORANGE,false],[683,709,NAVY,true],[894,920,NAVY,false]];
LEG.forEach((g,i)=>{
 const cx=g[0],cy=78,rr=g[3]?14:13;
 layout.shapes.push({type:'circle',xref:'paper',yref:'paper',layer:'above',x0:px(cx-rr),x1:px(cx+rr),y0:py(cy+rr),y1:py(cy-rr),
  fillcolor:g[3]?g[2]:'#ffffff',line:{color:g[2],width:g[3]?0:3.6}});
 ann(g[1],79,LEGEND_NAMES[i],{xanchor:'left',font:{size:24,family:FONT,weight:'bold',color:g[2]}});
});

// row labels
const ROWC='#8E3B3B';
ann(174,125,'*<i>I</i><sub>CC</sub>',{xanchor:'right',font:{size:22,family:FONT,weight:'bold',color:ROWC}});
ROW_CURRENTS.forEach((t,r)=>{const yc=(ROW_EDGES[r]+ROW_EDGES[r+1])/2-3; ann(175,yc,t,{xanchor:'right',font:{size:18,family:FONT,weight:'bold',color:ROWC}});});
ann(68,282,'<i>Pos.</i>',{font:{size:25,family:FONT,weight:'bold',color:'#C00000'}});
ann(70,312,'<i>Uni</i>',{font:{size:25,family:FONT,weight:'bold',color:'#C00000'}});
ann(66,636,'<i>Bi</i>',{font:{size:25,family:FONT,weight:'bold',color:'#1E78E6'}});
ann(72,979,'<i>Neg.</i>',{font:{size:25,family:FONT,weight:'bold',color:'#1D4D1D'}});
ann(72,1008,'<i>Uni</i>',{font:{size:25,family:FONT,weight:'bold',color:'#1D4D1D'}});

// x-axis titles
const TITLE_X=[302,481,661,858,1067];
COL_TITLES.forEach((t,i)=>ann(TITLE_X[i],1199,t,{font:{size:20,family:FONT,weight:'bold',color:'#000'}}));

Plotly.newPlot('chart',traces,layout,{staticPlot:true,displayModeBar:false});
</script></body></html>
